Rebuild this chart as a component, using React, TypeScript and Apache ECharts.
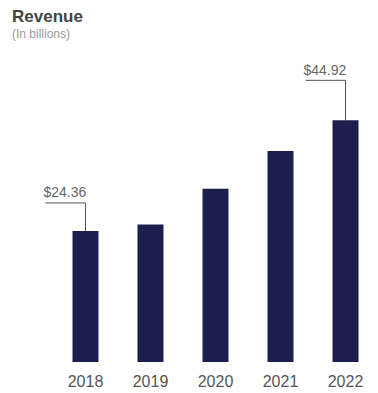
import React, { useEffect, useRef } from "react";
import * as echarts from "echarts";

const years = ["2018", "2019", "2020", "2021", "2022"];
const revenue = [24.36, 25.54, 32.22, 39.21, 44.92];
const annotatedYears = ["2018", "2022"];
const annotatedValues = [24.36, 44.92];

const FONT = "'Liberation Sans', Arial, Helvetica, sans-serif";
const RISE = [28, 40];

export default function App() {
  const ref = useRef<HTMLDivElement>(null);
  useEffect(() => {
    if (!ref.current) return;
    const chart = echarts.init(ref.current, null, { renderer: "svg" });
    chart.setOption({
      animation: false,
      backgroundColor: "#ffffff",
      title: {
        text: "Revenue",
        subtext: "(In billions)",
        left: 7,
        top: 3,
        itemGap: 3,
        textStyle: { fontFamily: FONT, fontSize: 17, fontWeight: "bold", color: "#444444" },
        subtextStyle: { fontFamily: FONT, fontSize: 12, color: "#9a9a9a" },
      },
      grid: { left: 53, width: 331, top: 93, bottom: 31 },
      xAxis: {
        type: "category",
        data: years,
        axisLine: { show: false },
        axisTick: { show: false },
        axisLabel: { color: "#555555", fontSize: 16, fontFamily: FONT, margin: 11 },
      },
      yAxis: {
        type: "value",
        min: 0,
        max: 50,
        show: false,
        splitLine: { show: false },
      },
      series: [
        {
          type: "bar",
          data: revenue,
          barWidth: 26,
          itemStyle: { color: "#1c1e4e" },
        },
        {
          type: "custom",
          clip: false,
          z: 5,
          data: annotatedYears.map((y, i) => [y, annotatedValues[i]]),
          encode: { x: 0, y: 1 },
          renderItem: (params: any, api: any) => {
            const p = api.coord([api.value(0), api.value(1)]);
            const rise = RISE[params.dataIndex];
            const ly = p[1] - rise;
            const v = api.value(1) as number;
            return {
              type: "group",
              children: [
                {
                  type: "polyline",
                  shape: { points: [[p[0] - 40, ly], [p[0], ly], [p[0], p[1]]] },
                  style: { stroke: "#555555", lineWidth: 1, fill: null },
                },
                {
                  type: "text",
                  x: p[0] - 42,
                  y: ly - 10.5,
                  style: {
                    text: "$" + v.toFixed(2),
                    fill: "#666666",
                    font: "14px " + FONT,
                    align: "left",
                    verticalAlign: "middle",
                  },
                },
              ],
            };
          },
        },
      ],
    });
    return () => chart.dispose();
  }, []);
  return (
    <div
      ref={ref}
      style={{ position: "absolute", left: 0, top: 0, width: 378, height: 393 }}
    />
  );
}
